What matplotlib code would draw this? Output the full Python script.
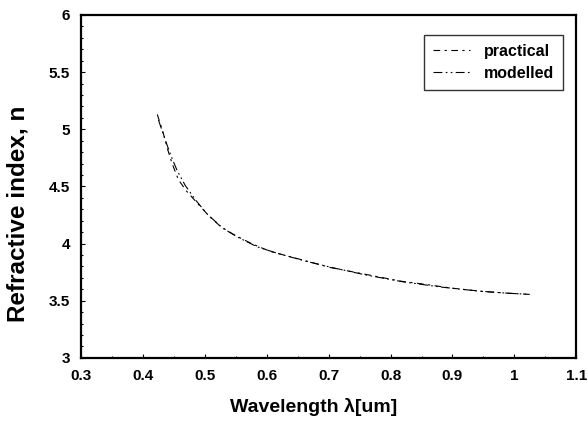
import numpy as np
import matplotlib.pyplot as plt
from matplotlib.ticker import MultipleLocator

plt.rcParams['font.family'] = ['Liberation Sans', 'DejaVu Sans']

# practical (measured) refractive index
wl_practical = [0.423, 0.432, 0.440, 0.447, 0.457, 0.470, 0.485, 0.505, 0.525,
                0.546, 0.575, 0.606, 0.655, 0.703, 0.760, 0.817, 0.860,
                0.898, 0.950, 0.990, 1.025]
n_practical = [5.13, 4.98, 4.82, 4.70, 4.56, 4.46, 4.37, 4.25, 4.15,
               4.08, 4.00, 3.93, 3.86, 3.79, 3.73, 3.67, 3.64,
               3.61, 3.58, 3.565, 3.555]

# modelled refractive index
wl_modelled = [0.425, 0.435, 0.445, 0.455, 0.468, 0.485, 0.505, 0.530,
               0.555, 0.585, 0.620, 0.660, 0.705, 0.760, 0.820, 0.880,
               0.940, 0.990, 1.025]
n_modelled = [5.08, 4.92, 4.77, 4.64, 4.51, 4.38, 4.25, 4.13,
              4.05, 3.97, 3.91, 3.85, 3.79, 3.725, 3.665, 3.62,
              3.585, 3.565, 3.555]

xtick_labels = ['0.3', '0.4', '0.5', '0.6', '0.7', '0.8', '0.9', '1', '1.1']
ytick_labels = ['3', '3.5', '4', '4.5', '5', '5.5', '6']

fig = plt.figure(figsize=(5.88, 4.28), dpi=100)
ax = fig.add_axes([0.138, 0.164, 0.842, 0.801])

ax.plot(wl_practical, n_practical, color='black', lw=0.8,
        linestyle=(0, (6, 4, 2, 4)), label='practical')
ax.plot(wl_modelled, n_modelled, color='black', lw=0.8,
        linestyle=(0, (8, 3, 1.5, 3, 1.5, 3)), label='modelled')

ax.set_xlim(0.3, 1.1)
ax.set_ylim(3, 6)
ax.xaxis.set_minor_locator(MultipleLocator(0.05))
ax.yaxis.set_minor_locator(MultipleLocator(0.1))
ax.set_xticks(np.arange(0.3, 1.11, 0.1))
ax.set_xticklabels(xtick_labels)
ax.set_yticks(np.arange(3, 6.01, 0.5))
ax.set_yticklabels(ytick_labels)

ax.tick_params(which='both', direction='in', labelsize=11, width=0.8)
ax.tick_params(which='major', length=3, pad=8)
ax.tick_params(which='minor', length=1.5)
for lbl in ax.get_xticklabels() + ax.get_yticklabels():
    lbl.set_fontweight('bold')

for sp in ax.spines.values():
    sp.set_linewidth(1.6)

ax.set_xlabel('Wavelength λ[um]', fontsize=14, fontweight='bold')
ax.set_ylabel('Refractive index, n', fontsize=17.5, fontweight='bold')
ax.xaxis.set_label_coords(0.47, -0.117)
ax.yaxis.set_label_coords(-0.105, 0.42)

leg = ax.legend(loc='upper right', bbox_to_anchor=(0.974, 0.942),
                borderaxespad=0, prop={'weight': 'bold', 'size': 11.5},
                frameon=True, fancybox=False, edgecolor='black',
                handlelength=2.3, borderpad=0.55, labelspacing=0.45,
                handletextpad=0.9)
leg.get_frame().set_linewidth(1.0)

fig.savefig('out.png', dpi=100)
